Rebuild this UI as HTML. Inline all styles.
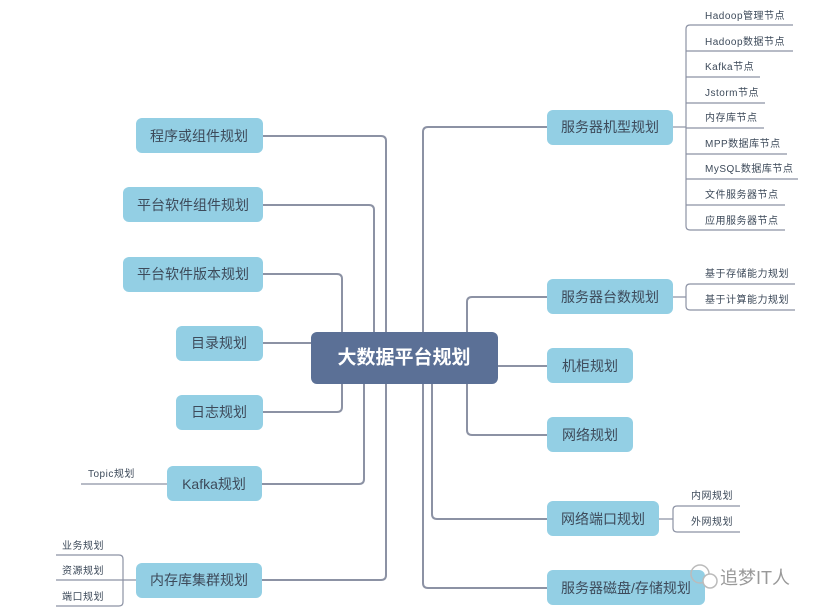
<!DOCTYPE html>
<html><head><meta charset="utf-8"><style>
html,body{margin:0;padding:0;background:#fff;width:821px;height:612px;overflow:hidden}
svg{display:block}
text{font-family:"Liberation Sans","Noto Sans CJK SC",sans-serif}
.n{fill:#93cfe4}
.t{font-size:14px;fill:#3d4a5a;text-anchor:middle;dominant-baseline:central}
.l{font-size:10px;fill:#3d4a5a;letter-spacing:0.5px}
.m{stroke:#8c92a4;stroke-width:2;fill:none}
.s{stroke:#8c92a4;stroke-width:1.2;fill:none}
</style></head><body>
<svg width="821" height="612" viewBox="0 0 821 612">
<path class="m" d="M263 136 H381 Q386 136 386 141 V332"/>
<path class="m" d="M263 205 H369 Q374 205 374 210 V332"/>
<path class="m" d="M263 274 H337 Q342 274 342 279 V332"/>
<path class="m" d="M263 343 H311"/>
<path class="m" d="M263 412 H337 Q342 412 342 407 V384"/>
<path class="m" d="M262 484 H359 Q364 484 364 479 V384"/>
<path class="m" d="M262 580 H381 Q386 580 386 575 V384"/>
<path class="m" d="M547 127 H428 Q423 127 423 132 V332"/>
<path class="m" d="M547 297 H472 Q467 297 467 302 V332"/>
<path class="m" d="M498 366 H547"/>
<path class="m" d="M547 435 H472 Q467 435 467 430 V384"/>
<path class="m" d="M547 519 H437 Q432 519 432 514 V384"/>
<path class="m" d="M547 588 H428 Q423 588 423 583 V384"/>
<rect x="311" y="332" width="187" height="52" rx="6" fill="#5b7096"/>
<text x="404" y="358" font-size="19" font-weight="bold" fill="#fff" text-anchor="middle" dominant-baseline="central">大数据平台规划</text>
<rect class="n" x="136" y="118" width="127" height="35" rx="6"/><text class="t" x="199" y="136">程序或组件规划</text>
<rect class="n" x="123" y="187" width="140" height="35" rx="6"/><text class="t" x="193" y="205">平台软件组件规划</text>
<rect class="n" x="123" y="257" width="140" height="35" rx="6"/><text class="t" x="193" y="274">平台软件版本规划</text>
<rect class="n" x="176" y="326" width="87" height="35" rx="6"/><text class="t" x="219" y="343">目录规划</text>
<rect class="n" x="176" y="395" width="87" height="35" rx="6"/><text class="t" x="219" y="412">日志规划</text>
<rect class="n" x="167" y="466" width="95" height="35" rx="6"/><text class="t" x="214" y="484">Kafka规划</text>
<rect class="n" x="136" y="563" width="126" height="35" rx="6"/><text class="t" x="199" y="580">内存库集群规划</text>
<rect class="n" x="547" y="110" width="126" height="35" rx="6"/><text class="t" x="610" y="127">服务器机型规划</text>
<rect class="n" x="547" y="279" width="126" height="35" rx="6"/><text class="t" x="610" y="297">服务器台数规划</text>
<rect class="n" x="547" y="348" width="86" height="35" rx="6"/><text class="t" x="590" y="366">机柜规划</text>
<rect class="n" x="547" y="417" width="86" height="35" rx="6"/><text class="t" x="590" y="435">网络规划</text>
<rect class="n" x="547" y="501" width="112" height="35" rx="6"/><text class="t" x="603" y="519">网络端口规划</text>
<rect class="n" x="547" y="570" width="158" height="35" rx="6"/><text class="t" x="626" y="588">服务器磁盘/存储规划</text>
<path class="s" d="M673 127 H686"/>
<path class="s" d="M793 25 H690 Q686 25 686 29 V226 Q686 230 690 230 H785"/>
<path class="s" d="M686 51 H793 M686 77 H760 M686 103 H765 M686 128 H764 M686 154 H787 M686 179 H798 M686 205 H785"/>
<text class="l" x="705" y="19">Hadoop管理节点</text>
<text class="l" x="705" y="45">Hadoop数据节点</text>
<text class="l" x="705" y="70">Kafka节点</text>
<text class="l" x="705" y="96">Jstorm节点</text>
<text class="l" x="705" y="121">内存库节点</text>
<text class="l" x="705" y="147">MPP数据库节点</text>
<text class="l" x="705" y="172">MySQL数据库节点</text>
<text class="l" x="705" y="198">文件服务器节点</text>
<text class="l" x="705" y="224">应用服务器节点</text>
<path class="s" d="M673 297 H686 M795 284 H690 Q686 284 686 288 V306 Q686 310 690 310 H795"/>
<text class="l" x="705" y="277">基于存储能力规划</text>
<text class="l" x="705" y="303">基于计算能力规划</text>
<path class="s" d="M659 519 H673 M740 506 H677 Q673 506 673 510 V528 Q673 532 677 532 H740"/>
<text class="l" x="691" y="499">内网规划</text>
<text class="l" x="691" y="525">外网规划</text>
<path class="s" d="M81 484 H167"/>
<text class="l" x="88" y="477">Topic规划</text>
<path class="s" d="M136 580 H123 M56 555 H119 Q123 555 123 559 V602 Q123 606 119 606 H56 M56 580 H123"/>
<text class="l" x="62" y="549">业务规划</text>
<text class="l" x="62" y="574">资源规划</text>
<text class="l" x="62" y="600">端口规划</text>
<circle cx="700" cy="574" r="9" fill="none" stroke="#bbb" stroke-width="1.5"/>
<circle cx="710" cy="581" r="7" fill="#fff" stroke="#bbb" stroke-width="1.5"/>
<text x="720" y="584" font-size="18" fill="#999">追梦IT人</text>
</svg>
</body></html>
